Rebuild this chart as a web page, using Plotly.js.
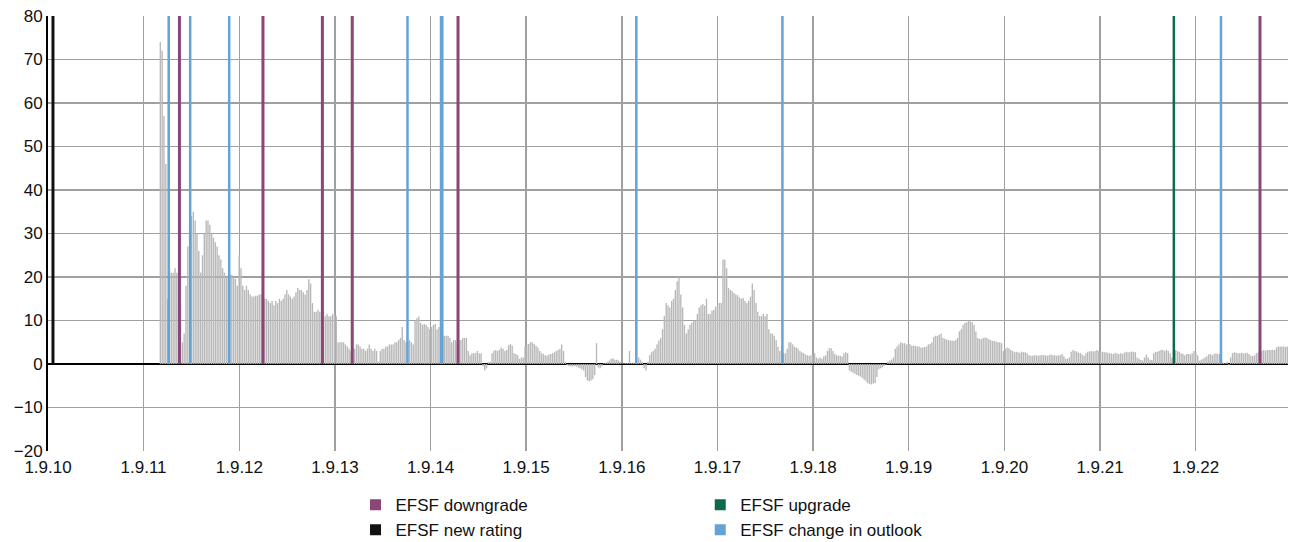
<!DOCTYPE html>
<html><head><meta charset="utf-8">
<script src="https://cdn.plot.ly/plotly-3.0.1.min.js"></script>
<style>html,body{margin:0;padding:0;background:#fff}#chart{width:1289px;height:542px}</style>
</head><body><div id="chart"></div>
<script>
// Weekly spread values (first week = seriesStart)
const seriesStart = '2011-11-04';
const spreadPart1 = [74,72,57,46,15,22,21,21,22,21, 20,14,5,7,18,27,32,34,35,33,
  30,26,21,25,30,33,33,32,30,29, 28,27,25,24,22,21,20,20,20.5,20.5,
  20,19.5,18,25,22,18,17,18,17,16, 15.5,15.5,15.7,15.7,16,16,15.5,15,15,14.5,
  14,14.5,13.5,14.5,14,15,14.5,15,16,17, 16,15.5,15,15.5,16.5,17.5,17,17,16.5,16,
  17,19.5,18.5,14,12,12,12.5,12,11,12, 11,11.5,11,11,11.5,11.5,11,5,5,5];
const spreadPart2 = [5,4.5,4,3.5,3,4,3.5,4.5,4.5,4, 3.5,3.5,3,3.5,4.5,3.5,3,3.5,3,0.5,
  3,3.5,3.5,4,4,4.5,4.5,4.5,5,5, 5.5,6,8.5,5.5,5,5,5.5,5,4.5,10,
  10.5,11,9.5,9,9.2,9,8.5,8,8.5,9, 9.2,8,8.5,6.5,6.5,6.5,6.5,6.5,6,5,
  5.5,5.5,5,5.5,5.5,6,6,6,3,2, 2.5,2.5,2.5,3,2.5,2.5,-0.5,-1.5,-1,0.4,
  0.5,2.5,3,3.2,3,3.3,3.8,3.5,3,3.2, 4.3,4.6,4.2,2.5,2.3,2,1.2,1.5,1.5,4];
const spreadPart3 = [4.5,4.6,5,5,4.6,4.2,3.8,3,2.5,2.3, 2,1.9,2.2,2.3,2.5,2.7,3,3.2,3.5,4.5,
  3,0.5,-0.3,-0.5,-0.5,-0.6,-0.5,-0.6,-0.8,-1, -1.2,-1.5,-3,-3.8,-4,-3.8,-3.5,-2.5,4.8,-0.8,
  -1,-0.5,0.2,0.3,0.5,0.8,1.2,1.3,1,1, 0.8,0.5,0.2,0.2,0.3,0.2,3,0.2,0.3,0.2,
  0.3,1.5,1,0.5,-1,-1.5,0.5,2,2.7,3, 3.5,4.5,5.4,6,8,11,14,13.5,13,14.5,
  15,17,19,20,16,13,9,7,8,9, 9.5,10,10,11.5,13,13.5,13.8,13.4,15,11.5];
const spreadPart4 = [11.5,12.3,12.5,13.2,13.5,14,14,24,24,22, 17.5,17,16.8,16.3,16,15.8,15.3,15,15.2,14.5,
  14,14.5,15.5,18.5,17,14,12,11,11,11.5, 11,11.5,8,7,7,6.5,5.5,4,3,4,
  2.5,2.5,3.5,5,5,4.5,4,3.8,3.5,3, 2.7,2.5,2.2,2,1.9,2,2,2.5,1.5,1.2,
  1.5,1.2,1.8,2,3,3.6,3.6,3,2.3,2, 1.9,1.9,1.7,2.5,2.7,2.5,-1.5,-1.8,-2,-2.3,
  -2.5,-2.7,-2.9,-3.2,-3.6,-4,-4.4,-4.6,-4.7,-4.5, -4.4,-3,-1.2,-1,-0.8,-0.4,-0.2,0.5,0.8,1];
const spreadPart5 = [1.5,3.5,4,4.5,5,4.8,4.8,4.5,4.6,4.6, 4.2,4.2,4.2,4,4,3.8,3.8,3.9,4,4.5,
  4.6,5,6.2,6.5,6.5,6.7,7,6,5.8,5.6, 5.5,5.4,5.4,5.3,5.5,6,7.5,8,9,9.5,
  9.6,10,9.8,9.6,9,7.5,6,5.8,5.7,6, 6.1,6,5.7,5.5,5.3,5.3,5.2,5,5,4.8,
  3,3.5,3.8,3.6,3.3,3,2.7,2.8,2.7,2.6, 2.8,2.7,2.7,2.5,2,1.9,1.9,2,2,1.9,
  2,2.1,2,2,1.9,2,2.2,2,2,1.9, 2,2,2.3,1.8,1.2,1.2,1.5,2.8,3.2,3];
const spreadPart6 = [2.9,2.6,2.5,2.2,1.9,2.5,2.8,2.9,3,2.9, 3,3.2,3,2.9,2.8,2.7,2.7,2.6,2.5,2.4,
  2.3,2.6,2.4,2.3,2.5,2.3,2.6,2.8,2.7,2.7, 2.9,2.8,2.7,1.5,1.2,0.9,0.8,1.5,2.2,1.5,
  1,0.9,2.5,2.8,2.8,3,3.2,3.3,3,3.3, 3,2.5,1.5,0.5,3.2,3,2.8,2.5,2.3,2,
  2.3,2.3,2.2,2.5,3,2.8,2,0.8,1,1.2, 1.5,1.8,2.2,2.3,2,2.3,2.5,2.3,2.3,1,
  0.3,0.2,0.5,-0.2,1.5,2.5,2.7,2.6,2.5,2.5, 2.6,2.4,2.5,2.6,2.3,1.9,1.8,2,2.5,2.7,
  2.8,3,3.2,3.1,3.2,3.2,3.2,3.3,3.2,3.8, 4,4,4,4,3.9,4];

const tickDates = ['2010-09-01','2011-09-01','2012-09-01','2013-09-01','2014-09-01','2015-09-01','2016-09-01',
  '2017-09-01','2018-09-01','2019-09-01','2020-09-01','2021-09-01','2022-09-01'];
const tickLabels = ['1.9.10','1.9.11','1.9.12','1.9.13','1.9.14','1.9.15','1.9.16',
  '1.9.17','1.9.18','1.9.19','1.9.20','1.9.21','1.9.22'];

const downgradeDates = ['2012-01-16','2012-11-30','2013-07-15','2013-11-06','2014-12-15','2023-05-05'];
const upgradeDates = ['2022-06-10'];
const newRatingDates = ['2010-09-20'];
const outlookDates = ['2011-12-06','2012-02-26','2012-07-24','2014-06-05','2014-10-11','2014-10-16','2016-10-26','2018-05-07','2022-12-07'];

const seriesNames = {down:'EFSF downgrade', up:'EFSF upgrade', newr:'EFSF new rating', outl:'EFSF change in outlook'};
const colors = {down:'#8b4577', up:'#0b6b4a', newr:'#111111', outl:'#65a2d6', bar:'#b8b8b8', grid:'#a0a0a0'};

const values = [].concat(spreadPart1, spreadPart2, spreadPart3, spreadPart4, spreadPart5, spreadPart6);
const startMs = Date.parse(seriesStart + 'T00:00:00Z');
const dates = values.map((_, i) => new Date(startMs + i * 7 * 86400000).toISOString().slice(0, 10));

const barTrace = {type:'bar', x:dates, y:values, marker:{color:colors.bar, line:{width:0}}, showlegend:false, hoverinfo:'x+y'};

function legendTrace(key, legendId){
  return {type:'scatter', mode:'markers', x:[null], y:[null], name:seriesNames[key],
    marker:{symbol:'square', size:11, color:colors[key]}, legend:legendId, showlegend:true};
}

const shapes = [];
function addLines(list, color, width){
  list.forEach(d => shapes.push({type:'line', xref:'x', yref:'y', x0:d, x1:d, y0:0, y1:80,
    line:{color:color, width:width}, layer:'above'}));
}
addLines(newRatingDates, colors.newr, 3);
addLines(outlookDates, colors.outl, 2.5);
addLines(downgradeDates, colors.down, 3);
addLines(upgradeDates, colors.up, 2.5);

const font = {family:'"Liberation Sans", Arial, Helvetica, sans-serif', size:17, color:'#111111'};

const layout = {
  width:1289, height:542,
  margin:{l:48, r:1, t:16, b:91, autoexpand:false},
  paper_bgcolor:'#fff', plot_bgcolor:'#fff',
  font:font,
  bargap:0.25,
  showlegend:true,
  xaxis:{type:'date', range:['2010-09-01','2023-08-20'], tickmode:'array', tickvals:tickDates, ticktext:tickLabels,
    showgrid:true, gridcolor:colors.grid, gridwidth:1.5, zeroline:false, showline:false, ticks:'',
    ticklabelstandoff:4, tickfont:font, fixedrange:true, automargin:false},
  yaxis:{range:[-20,80], tickmode:'linear', tick0:0, dtick:10, showgrid:true, gridcolor:colors.grid, gridwidth:1.5,
    zeroline:true, zerolinecolor:'#000', zerolinewidth:1.5, showline:true, linecolor:'#000', linewidth:2,
    ticks:'', tickfont:font, fixedrange:true, automargin:false},
  shapes:shapes,
  legend:{x:0.248, y:-0.083, xanchor:'left', yanchor:'top', orientation:'v', bgcolor:'rgba(0,0,0,0)',
    font:font, tracegroupgap:0},
  legend2:{x:0.526, y:-0.083, xanchor:'left', yanchor:'top', orientation:'v', bgcolor:'rgba(0,0,0,0)',
    font:font, tracegroupgap:0}
};

const data = [barTrace,
  legendTrace('down','legend'), legendTrace('newr','legend'),
  legendTrace('up','legend2'), legendTrace('outl','legend2')];

Plotly.newPlot('chart', data, layout, {displayModeBar:false, staticPlot:true});
</script>
</body></html>
